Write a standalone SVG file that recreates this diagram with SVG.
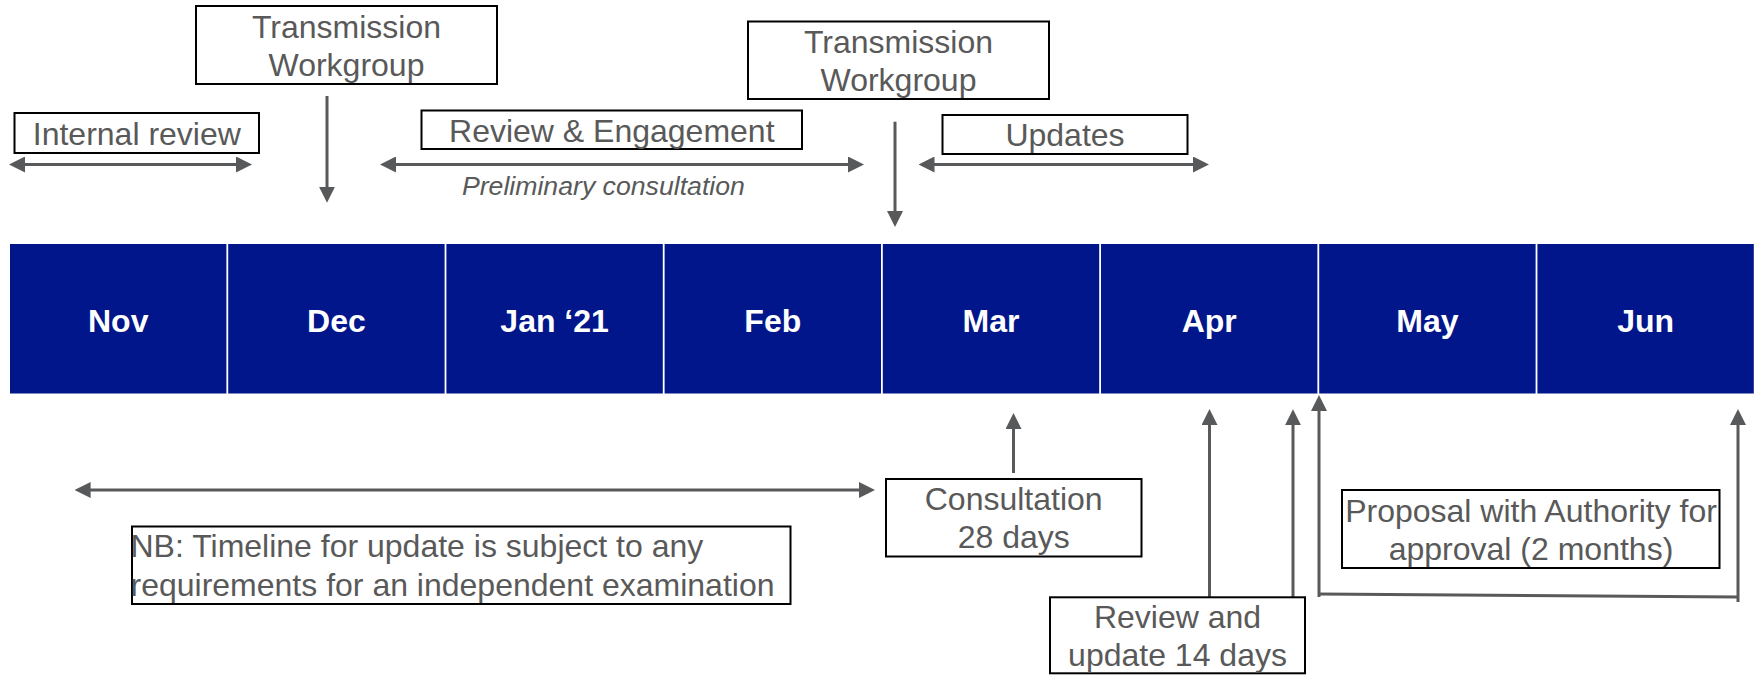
<svg xmlns="http://www.w3.org/2000/svg" width="1757" height="675" viewBox="0 0 1757 675">
<defs>
<style>
.box{fill:#fff;stroke:#000;stroke-width:2}
.lbl{font-family:"Liberation Sans",Arial,sans-serif;font-size:32px;fill:#595959;text-anchor:middle}
.mon{font-family:"Liberation Sans",Arial,sans-serif;font-size:32px;font-weight:bold;fill:#fff;text-anchor:middle}
.seg{fill:#00168A}
.con{fill:none;stroke:#58595B;stroke-width:3}
</style>
<marker id="ah" viewBox="0 0 16 16" markerUnits="userSpaceOnUse" markerWidth="16" markerHeight="16" refX="1" refY="8" orient="auto-start-reverse">
<path d="M0,0 L16,8 L0,16 Z" fill="#58595B"/>
</marker>
</defs>
<rect width="1757" height="675" fill="#fff"/>

<g id="timeline">
<g id="m-nov"><rect class="seg" x="10" y="244" width="216.4" height="149.5"/><text class="mon" x="118.2" y="332">Nov</text></g>
<g id="m-dec"><rect class="seg" x="228.2" y="244" width="216.4" height="149.5"/><text class="mon" x="336.4" y="332">Dec</text></g>
<g id="m-jan"><rect class="seg" x="446.4" y="244" width="216.4" height="149.5"/><text class="mon" x="554.6" y="332">Jan ‘21</text></g>
<g id="m-feb"><rect class="seg" x="664.6" y="244" width="216.4" height="149.5"/><text class="mon" x="772.8" y="332">Feb</text></g>
<g id="m-mar"><rect class="seg" x="882.8" y="244" width="216.4" height="149.5"/><text class="mon" x="991" y="332">Mar</text></g>
<g id="m-apr"><rect class="seg" x="1101" y="244" width="216.4" height="149.5"/><text class="mon" x="1209.2" y="332">Apr</text></g>
<g id="m-may"><rect class="seg" x="1319.2" y="244" width="216.4" height="149.5"/><text class="mon" x="1427.4" y="332">May</text></g>
<g id="m-jun"><rect class="seg" x="1537.4" y="244" width="216.4" height="149.5"/><text class="mon" x="1645.6" y="332">Jun</text></g>
</g>

<g id="connectors">
<path class="con" d="M24,164.5 H237" marker-start="url(#ah)" marker-end="url(#ah)"/>
<path class="con" d="M395,164.5 H849" marker-start="url(#ah)" marker-end="url(#ah)"/>
<path class="con" d="M933.5,164.5 H1194" marker-start="url(#ah)" marker-end="url(#ah)"/>
<path class="con" d="M327,96 V187.7" marker-end="url(#ah)"/>
<path class="con" d="M895,121.7 V212" marker-end="url(#ah)"/>
<path class="con" d="M89.6,490 H860" marker-start="url(#ah)" marker-end="url(#ah)"/>
<path class="con" d="M1013.5,473 V428" marker-end="url(#ah)"/>
<path class="con" d="M1209.5,597 V424" marker-end="url(#ah)"/>
<path class="con" d="M1293,597 V424.3" marker-end="url(#ah)"/>
<path class="con" d="M1319,597 V410" marker-end="url(#ah)"/>
<path class="con" d="M1319,594 L1738,597"/>
<path class="con" d="M1738,602 V424" marker-end="url(#ah)"/>
</g>

<g id="tw1"><rect class="box" x="196" y="6" width="301" height="78"/><text class="lbl" x="346.5" y="37.5">Transmission</text><text class="lbl" x="346.5" y="75.5">Workgroup</text></g>
<g id="internal-review"><rect class="box" x="14.5" y="113" width="244.5" height="40"/><text class="lbl" x="136.8" y="144.5">Internal review</text></g>
<g id="review-engagement"><rect class="box" x="421.5" y="110.5" width="380.5" height="38.5"/><text class="lbl" x="611.8" y="141.5">Review &amp; Engagement</text></g>
<g id="prelim"><text x="603.4" y="195" style="font-family:'Liberation Sans',Arial,sans-serif;font-size:26.67px;font-style:italic;fill:#595959;text-anchor:middle">Preliminary consultation</text></g>
<g id="tw2"><rect class="box" x="748" y="21.5" width="301" height="77.5"/><text class="lbl" x="898.5" y="52.7">Transmission</text><text class="lbl" x="898.5" y="91">Workgroup</text></g>
<g id="updates"><rect class="box" x="942.5" y="115" width="245" height="39"/><text class="lbl" x="1065" y="146">Updates</text></g>
<g id="consultation"><rect class="box" x="886" y="479" width="255.5" height="77.5"/><text class="lbl" x="1013.7" y="509.5">Consultation</text><text class="lbl" x="1013.7" y="548">28 days</text></g>
<g id="nb"><rect class="box" x="132" y="526.5" width="658.5" height="77.5"/><text class="lbl" x="130.5" y="557" style="text-anchor:start">NB: Timeline for update is subject to any</text><text class="lbl" x="130.5" y="595.5" style="text-anchor:start">requirements for an independent examination</text></g>
<g id="review-update"><rect class="box" x="1050" y="597.3" width="255" height="76"/><text class="lbl" x="1177.5" y="627.5">Review and</text><text class="lbl" x="1177.5" y="665.5">update 14 days</text></g>
<g id="proposal"><rect class="box" x="1342" y="490" width="377.5" height="78"/><text class="lbl" x="1531" y="521.5">Proposal with Authority for</text><text class="lbl" x="1531" y="559.5">approval (2 months)</text></g>
</svg>
